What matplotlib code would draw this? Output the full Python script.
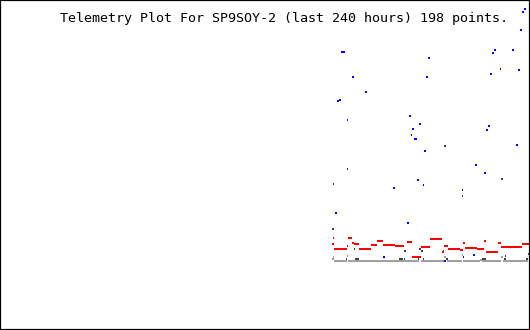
import numpy as np
import matplotlib
matplotlib.use("Agg")
import matplotlib.pyplot as plt

# values, in plot units (x = time position, y = value, inverted)
title = "Telemetry Plot For SP9SOY-2 (last 240 hours) 198 points."

# blue series: start, end, level
blue_x0 = [524, 522, 341, 520, 428, 494, 492, 512, 352, 426, 490, 500, 518, 365, 337, 339,
           347, 409, 419, 412, 488, 486, 411, 414, 516, 424, 475, 484, 417, 423, 393, 462,
           335, 407, 383, 473, 463, 444]
blue_x1 = [526, 524, 345, 522, 430, 496, 494, 514, 354, 428, 492, 501, 520, 367, 339, 341,
           348, 411, 421, 414, 490, 488, 412, 417, 518, 426, 477, 486, 419, 424, 395, 463,
           337, 409, 385, 475, 464, 446]
blue_y = [9, 12, 52, 30, 58, 50, 53, 50, 77, 77, 74, 69, 70, 92, 101, 100,
          120, 116, 124, 129, 126, 130, 135, 139, 145, 151, 165, 173, 180, 185, 188, 190,
          213, 223, 257, 255, 257, 261]

# red series
red_x0 = [333, 348, 377, 430, 407, 332, 352, 354, 371, 383, 395, 347, 463, 444, 421, 484,
          498, 522, 334, 359, 448, 465, 477, 501, 460, 442, 486, 412]
red_x1 = [334, 352, 383, 442, 412, 334, 354, 359, 377, 395, 404, 348, 465, 448, 430, 486,
          501, 529, 347, 371, 460, 477, 484, 522, 463, 444, 498, 421]
red_y = [238, 238, 241, 239, 242, 244, 243, 244, 245, 245, 246, 246, 243, 246, 247, 241,
         243, 244, 249, 249, 249, 248, 249, 247, 250, 252, 252, 257]

# dark grey series
dark_x0 = [332, 333, 347, 444, 501, 462, 354, 404, 419, 421, 443, 480, 528, 505,
           355, 346, 399, 404, 418, 423, 446, 482, 504, 526]
dark_x1 = [334, 334, 348, 446, 503, 463, 355, 406, 421, 423, 444, 482, 530, 506,
           359, 347, 403, 405, 419, 424, 448, 486, 506, 528]
dark_y = [229, 184, 169, 146, 179, 196, 249, 251, 249, 251, 251, 249, 254, 256,
          259, 259, 259, 259, 259, 259, 259, 259, 259, 259]

# light grey series
light_x0 = [332, 333, 347, 444, 462, 480, 501,
            334, 348, 354, 421, 447, 463, 482, 503]
light_x1 = [334, 334, 348, 446, 463, 482, 503,
            347, 354, 419, 444, 462, 480, 501, 528]
light_y = [259, 257, 256, 257, 255, 260, 257,
           261, 261, 261, 261, 261, 261, 261, 261]

fig = plt.figure(figsize=(5.3, 3.3), dpi=100, facecolor="white")
ax = fig.add_axes([0, 0, 1, 1])
ax.set_xlim(0, 530)
ax.set_ylim(330, 0)
ax.set_xticks([])
ax.set_yticks([])
for s in ax.spines.values():
    s.set_linewidth(1.6)
    s.set_color("black")

lw = 1.44  # 2 px
series = [
    (light_x0, light_x1, light_y, "#a0a0a0"),
    (dark_x0, dark_x1, dark_y, "#404040"),
    (red_x0, red_x1, red_y, "#ff0000"),
    (blue_x0, blue_x1, blue_y, "#0000ff"),
]
for x0, x1, y, c in series:
    ax.hlines(y, x0, x1, colors=c, linewidth=lw, capstyle="butt", antialiased=False)

ax.text(60, 22, title, fontfamily="DejaVu Sans Mono", fontsize=9.6,
        color="black", va="baseline", ha="left")

fig.savefig("out.png", dpi=100, facecolor="white")
